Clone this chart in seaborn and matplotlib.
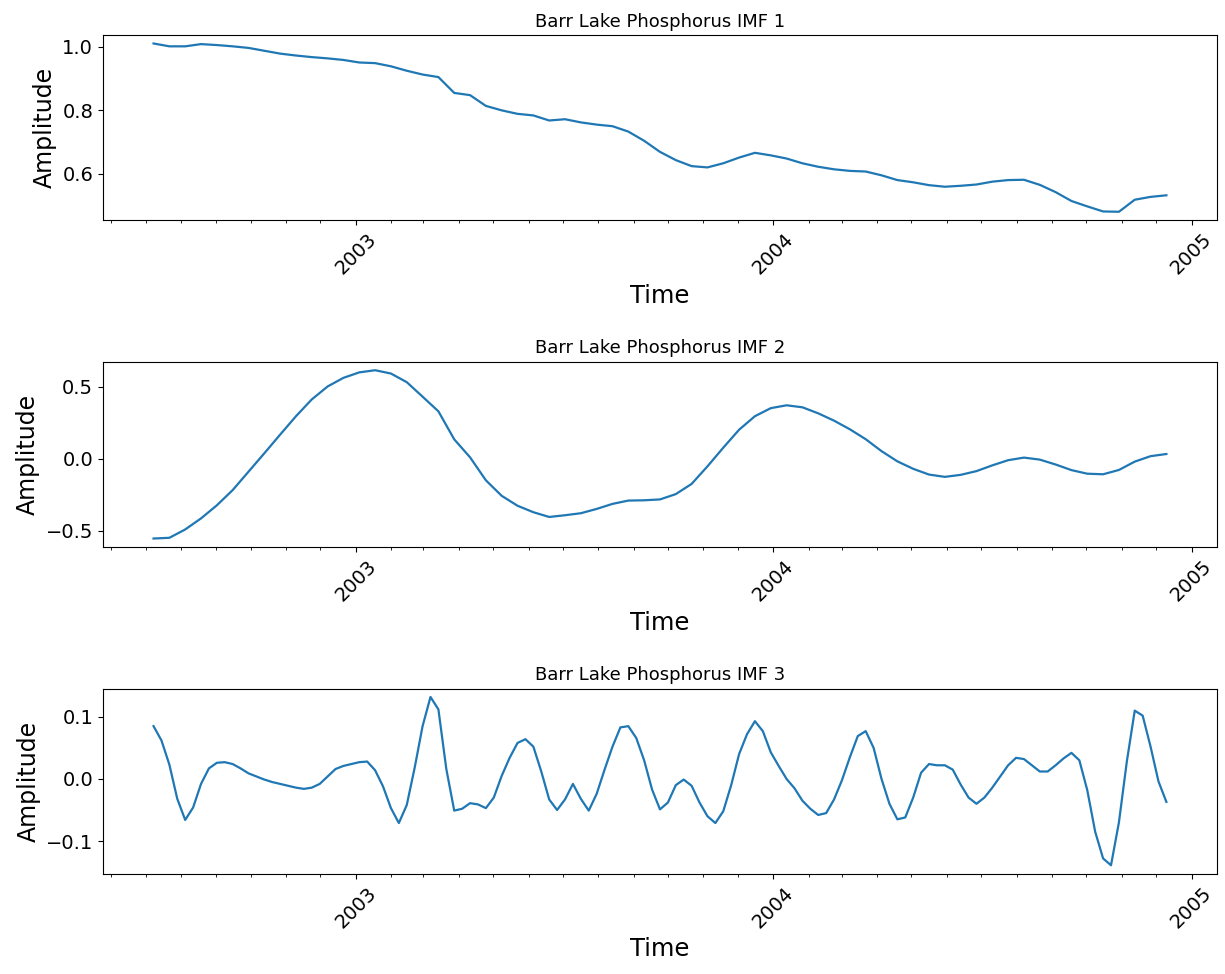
import numpy as np
import pandas as pd
import matplotlib
matplotlib.use('Agg')
import matplotlib.pyplot as plt
import matplotlib.dates as mdates
import seaborn as sns

# time span of the decomposed series
start_date = '2002-07-08'
end_date = '2004-12-10'

# IMF values (roughly every two weeks for IMF 1/2, weekly for IMF 3)
imf1 = [1.011, 1.002, 1.002, 1.009, 1.006, 1.002, 0.997, 0.988, 0.979, 0.973,
        0.968, 0.964, 0.959, 0.951, 0.949, 0.939, 0.925, 0.913, 0.905, 0.855,
        0.848, 0.814, 0.800, 0.789, 0.784, 0.768, 0.772, 0.762, 0.755, 0.750,
        0.733, 0.704, 0.669, 0.643, 0.624, 0.620, 0.633, 0.651, 0.666, 0.658,
        0.648, 0.633, 0.622, 0.614, 0.609, 0.607, 0.595, 0.580, 0.573, 0.564,
        0.559, 0.562, 0.566, 0.575, 0.580, 0.581, 0.565, 0.542, 0.514, 0.497,
        0.481, 0.480, 0.518, 0.527, 0.532]

imf2 = [-0.555, -0.550, -0.492, -0.415, -0.324, -0.218, -0.090, 0.038, 0.168, 0.296,
        0.413, 0.503, 0.563, 0.601, 0.616, 0.593, 0.533, 0.432, 0.330, 0.135,
        0.010, -0.150, -0.258, -0.327, -0.372, -0.405, -0.393, -0.379, -0.349, -0.314,
        -0.291, -0.289, -0.283, -0.246, -0.175, -0.053, 0.077, 0.202, 0.296, 0.352,
        0.372, 0.358, 0.316, 0.265, 0.205, 0.136, 0.053, -0.018, -0.070, -0.110,
        -0.126, -0.112, -0.086, -0.046, -0.010, 0.008, -0.006, -0.040, -0.079, -0.104,
        -0.108, -0.078, -0.020, 0.018, 0.033]

imf3 = [0.085, 0.062, 0.023, -0.032, -0.066, -0.046, -0.008, 0.017, 0.026, 0.027,
        0.024, 0.017, 0.009, 0.004, -0.001, -0.005, -0.008, -0.011, -0.014, -0.016,
        -0.014, -0.008, 0.004, 0.016, 0.021, 0.024, 0.027, 0.028, 0.014, -0.012,
        -0.047, -0.071, -0.042, 0.018, 0.085, 0.132, 0.112, 0.016, -0.051, -0.048,
        -0.039, -0.041, -0.047, -0.030, 0.005, 0.034, 0.058, 0.064, 0.052, 0.012,
        -0.033, -0.050, -0.033, -0.008, -0.032, -0.051, -0.024, 0.015, 0.052, 0.083,
        0.085, 0.066, 0.030, -0.017, -0.049, -0.038, -0.010, -0.001, -0.011, -0.038,
        -0.060, -0.071, -0.052, -0.010, 0.040, 0.072, 0.093, 0.077, 0.043, 0.021,
        0.000, -0.015, -0.035, -0.048, -0.058, -0.055, -0.033, -0.002, 0.035, 0.069,
        0.077, 0.050, 0.000, -0.040, -0.065, -0.062, -0.030, 0.010, 0.024, 0.022,
        0.022, 0.015, -0.009, -0.030, -0.040, -0.030, -0.014, 0.004, 0.022, 0.034,
        0.032, 0.022, 0.012, 0.012, 0.022, 0.033, 0.042, 0.030, -0.018, -0.085,
        -0.128, -0.139, -0.070, 0.028, 0.110, 0.102, 0.052, -0.004, -0.037]

titles = ['Barr Lake Phosphorus IMF 1',
          'Barr Lake Phosphorus IMF 2',
          'Barr Lake Phosphorus IMF 3']

fig, axes = plt.subplots(3, 1, figsize=(12.25, 9.74), dpi=100)

for ax, vals, title in zip(axes, [imf1, imf2, imf3], titles):
    dates = pd.date_range(start_date, end_date, periods=len(vals))
    df = pd.DataFrame({'Time': dates, 'Amplitude': vals})
    sns.lineplot(data=df, x='Time', y='Amplitude', ax=ax, color='#1f77b4', linewidth=1.6)
    ax.set_title(title, fontsize=13)
    ax.set_xlabel('Time', fontsize=17.5)
    ax.set_ylabel('Amplitude', fontsize=17)
    # yearly major ticks, monthly minor ticks
    ax.xaxis.set_major_locator(mdates.YearLocator())
    ax.xaxis.set_major_formatter(mdates.DateFormatter('%Y'))
    ax.xaxis.set_minor_locator(mdates.MonthLocator())
    ax.tick_params(axis='both', labelsize=14)
    ax.tick_params(axis='x', labelrotation=45)

fig.subplots_adjust(left=0.084, right=0.9935, top=0.964, bottom=0.103, hspace=0.765)
fig.savefig('out.png', dpi=100)
